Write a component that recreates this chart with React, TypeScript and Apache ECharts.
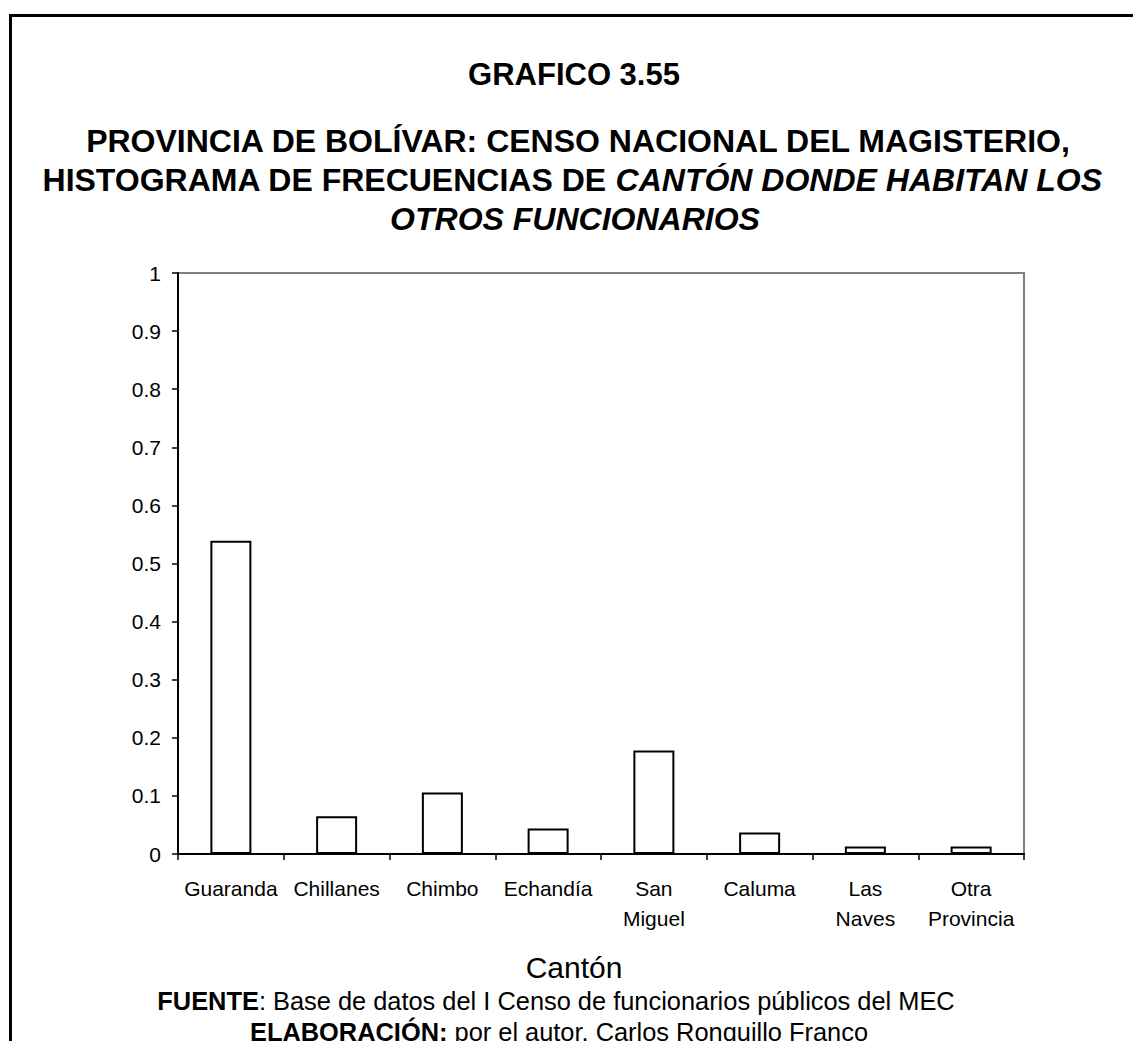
import React, { useEffect, useRef } from "react";
import * as echarts from "echarts";

const categories = [
  "Guaranda",
  "Chillanes",
  "Chimbo",
  "Echandía",
  "San\nMiguel",
  "Caluma",
  "Las\nNaves",
  "Otra\nProvincia",
];
const frequencies = [0.539, 0.065, 0.106, 0.044, 0.178, 0.037, 0.013, 0.013];

const chartNumber = "GRAFICO 3.55";
const titleLine1 = "PROVINCIA DE BOLÍVAR: CENSO NACIONAL DEL MAGISTERIO,";
const titleLine2Plain = "HISTOGRAMA DE FRECUENCIAS DE ";
const titleLine2Italic = "CANTÓN DONDE HABITAN LOS";
const titleLine3Italic = "OTROS FUNCIONARIOS";
const xAxisName = "Cantón";
const sourceLabel = "FUENTE";
const sourceText = ": Base de datos del I Censo de funcionarios públicos del MEC";
const authorLabel = "ELABORACIÓN:";
const authorText = " por el autor, Carlos Ronquillo Franco";

const FONT = "'Liberation Sans', Arial, Helvetica, sans-serif";

export default function App() {
  const ref = useRef<HTMLDivElement>(null);

  useEffect(() => {
    if (!ref.current) return;
    const chart = echarts.init(ref.current, null, { renderer: "svg" });
    const option = {
      animation: false,
      backgroundColor: "#ffffff",
      textStyle: { fontFamily: FONT, color: "#000" },
      grid: {
        left: 178,
        right: 109,
        top: 273,
        bottom: 187,
        show: true,
        borderColor: "#808080",
        borderWidth: 2,
        backgroundColor: "transparent",
      },
      xAxis: {
        type: "category",
        data: categories,
        boundaryGap: true,
        axisLine: { show: true, lineStyle: { color: "#000", width: 2 } },
        axisTick: {
          show: true,
          length: 6,
          alignWithLabel: false,
          lineStyle: { color: "#000", width: 1.5 },
        },
        axisLabel: {
          interval: 0,
          margin: 19,
          fontSize: 21,
          lineHeight: 30,
          color: "#000",
          fontFamily: FONT,
        },
        splitLine: { show: false },
      },
      yAxis: {
        type: "value",
        min: 0,
        max: 1,
        interval: 0.1,
        axisLine: { show: true, lineStyle: { color: "#000", width: 2 } },
        axisTick: { show: true, length: 6, lineStyle: { color: "#000", width: 1.5 } },
        axisLabel: {
          margin: 17,
          fontSize: 21,
          color: "#000",
          fontFamily: FONT,
        },
        splitLine: { show: false },
      },
      series: [
        {
          type: "bar",
          data: frequencies,
          barWidth: 41,
          itemStyle: { color: "#ffffff", borderColor: "#000", borderWidth: 2 },
          silent: true,
        },
      ],
      graphic: [
        {
          type: "line",
          shape: { x1: 9, y1: 15.5, x2: 1133, y2: 15.5 },
          style: { stroke: "#000", lineWidth: 3 },
        },
        {
          type: "line",
          shape: { x1: 10.5, y1: 14, x2: 10.5, y2: 1041 },
          style: { stroke: "#000", lineWidth: 3 },
        },
        {
          type: "text",
          x: 574,
          y: 74,
          style: {
            text: chartNumber,
            font: `bold 31px ${FONT}`,
            fill: "#000",
            textAlign: "center",
            textVerticalAlign: "middle",
          },
        },
        {
          type: "text",
          x: 578,
          y: 141,
          style: {
            text: titleLine1,
            font: `bold 32px ${FONT}`,
            fill: "#000",
            textAlign: "center",
            textVerticalAlign: "middle",
          },
        },
        {
          type: "text",
          x: 572,
          y: 180,
          style: {
            text: `{n|${titleLine2Plain}}{i|${titleLine2Italic}}`,
            fill: "#000",
            textAlign: "center",
            textVerticalAlign: "middle",
            rich: {
              n: { fontFamily: FONT, fontWeight: "bold", fontSize: 32, fill: "#000" },
              i: { fontFamily: FONT, fontWeight: "bold", fontStyle: "italic", fontSize: 32, fill: "#000" },
            },
          },
        },
        {
          type: "text",
          x: 575,
          y: 219,
          style: {
            text: titleLine3Italic,
            font: `italic bold 32px ${FONT}`,
            fill: "#000",
            textAlign: "center",
            textVerticalAlign: "middle",
          },
        },
        {
          type: "text",
          x: 574,
          y: 967,
          style: {
            text: xAxisName,
            font: `30px ${FONT}`,
            fill: "#000",
            textAlign: "center",
            textVerticalAlign: "middle",
          },
        },
        {
          type: "text",
          x: 556,
          y: 1001,
          style: {
            text: `{b|${sourceLabel}}{r|${sourceText}}`,
            fill: "#000",
            textAlign: "center",
            textVerticalAlign: "middle",
            rich: {
              b: { fontFamily: FONT, fontWeight: "bold", fontSize: 25.4, fill: "#000" },
              r: { fontFamily: FONT, fontSize: 25.4, fill: "#000" },
            },
          },
        },
        {
          type: "text",
          x: 559,
          y: 1032,
          style: {
            text: `{b|${authorLabel}}{r|${authorText}}`,
            fill: "#000",
            textAlign: "center",
            textVerticalAlign: "middle",
            rich: {
              b: { fontFamily: FONT, fontWeight: "bold", fontSize: 25.4, fill: "#000" },
              r: { fontFamily: FONT, fontSize: 25.4, fill: "#000" },
            },
          },
        },
      ],
    };
    chart.setOption(option as any);
    return () => chart.dispose();
  }, []);

  return (
    <div
      ref={ref}
      style={{ position: "absolute", left: 0, top: 0, width: 1133, height: 1041, background: "#fff" }}
    />
  );
}
